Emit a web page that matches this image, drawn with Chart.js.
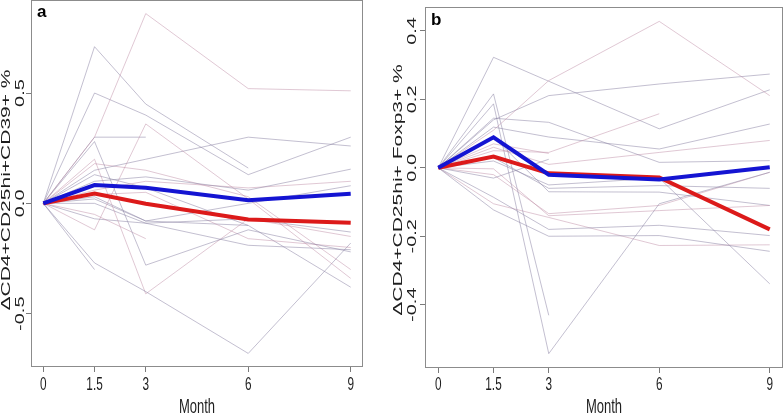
<!DOCTYPE html>
<html>
<head>
<meta charset="utf-8">
<script src="https://cdn.jsdelivr.net/npm/chart.js@4.4.1/dist/chart.umd.min.js"></script>
<style>
  body { margin: 0; background: #fff; }
  .wrap { position: relative; width: 784px; height: 414px; }
  canvas { position: absolute; top: 0; }
  #chartA { left: 0; }
  #chartB { left: 392px; }
</style>
</head>
<body>
<div class="wrap">
  <canvas id="chartA" width="392" height="414"></canvas>
  <canvas id="chartB" width="392" height="414"></canvas>
</div>
<script>
// x positions (months)
const months = [0, 1.5, 3, 6, 9];
const monthLabels = ["0", "1.5", "3", "6", "9"];

// panel a
const titleA = "\u0394CD4+CD25hi+CD39+ %";
const yTicksA = [-0.5, 0, 0.5];
const blueA = [0, 0.083, 0.071, 0.014, 0.044];
const redA = [0, 0.044, -0.002, -0.073, -0.088];
const subjectsA = [
  [0, 0.30, 0.86, 0.52, 0.51],
  [0, 0.71, 0.45, 0.16, null],
  [0, 0.50, 0.40, 0.13, 0.30],
  [0, -0.12, 0.36, 0.02, -0.34],
  [0, -0.27, -0.40, -0.68, -0.18],
  [0, 0.28, -0.28, -0.12, -0.22],
  [0, 0.20, -0.41, -0.07, -0.15],
  [0, -0.30, null, null, null],
  [0, 0.30, 0.30, null, null],
  [0, -0.05, -0.16, null, null],
  [0, 0.15, 0.20, 0.30, 0.26],
  [0, 0.10, 0.12, 0.06, 0.155],
  [0, 0.06, 0.10, 0.07, 0.10],
  [0, 0.02, -0.08, 0.0, 0.08],
  [0, -0.07, -0.09, -0.07, -0.13],
  [0, 0.04, 0.05, -0.16, -0.20],
  [0, 0.13, 0.07, -0.10, -0.38],
  [0, 0.0, -0.09, -0.19, -0.21],
  [0, 0.18, 0.15, 0.03, -0.30],
  [0, 0.03, -0.08, -0.10, null]
];

// panel b
const titleB = "\u0394CD4+CD25hi+ Foxp3+ %";
const yTicksB = [-0.4, -0.2, 0, 0.2, 0.4];
const blueB = [0, 0.089, -0.02, -0.034, 0.002];
const redB = [0, 0.033, -0.016, -0.028, -0.18];
const subjectsB = [
  [0, 0.11, 0.255, 0.428, 0.211],
  [0, 0.323, 0.253, 0.114, 0.228],
  [0, 0.14, 0.211, 0.245, 0.274],
  [0, 0.05, 0.045, 0.158, null],
  [0, 0.145, 0.133, 0.016, 0.021],
  [0, 0.119, 0.09, 0.055, 0.128],
  [0, 0.06, 0.01, 0.045, 0.08],
  [0, 0.187, -0.543, -0.105, -0.013],
  [0, 0.216, -0.431, null, null],
  [0, -0.003, -0.14, -0.125, -0.11],
  [0, -0.086, -0.18, -0.168, -0.198],
  [0, -0.123, -0.2, -0.198, -0.244],
  [0, -0.105, -0.145, -0.227, -0.225],
  [0, 0.02, -0.05, -0.03, -0.339],
  [0, 0.03, -0.06, -0.052, -0.06],
  [0, 0.07, 0.042, null, null],
  [0, -0.03, 0.025, null, null],
  [0, 0.09, -0.07, -0.071, -0.11],
  [0, -0.02, -0.134, -0.11, -0.013]
];

const SQ = 0.62; // the picture is squeezed sideways
const FONT = '"Liberation Sans", Arial, sans-serif';

function pts(vals) {
  return months.map((m, i) => ({ x: m, y: vals[i] }));
}

function makeDatasets(blue, red, subjects) {
  let ds = [];
  ds.push({ data: pts(blue), borderColor: "#1414d2", borderWidth: 4 });
  ds.push({ data: pts(red), borderColor: "#dc1a1a", borderWidth: 4 });
  subjects.forEach((s, i) => {
    ds.push({
      data: pts(s),
      borderColor: i % 3 == 0 ? "rgba(190,140,165,0.6)" : "rgba(140,132,165,0.65)",
      borderWidth: 0.8
    });
  });
  return ds;
}

const decor = {
  id: "decor",
  afterDraw(chart, args, o) {
    const ctx = chart.ctx;
    const a = chart.chartArea;
    const xs = chart.scales.x, ys = chart.scales.y;
    ctx.save();
    // box
    ctx.strokeStyle = "#8c8c8c";
    ctx.lineWidth = 1;
    ctx.strokeRect(Math.round(a.left) + 0.5, Math.round(a.top) + 0.5,
      Math.round(a.right - a.left) - 1, Math.round(a.bottom - a.top) - 1);
    ctx.fillStyle = "#1e1e1e";
    // x tick labels
    ctx.font = "19px " + FONT;
    ctx.textAlign = "center";
    ctx.textBaseline = "alphabetic";
    xs.ticks.forEach((t, i) => {
      ctx.save();
      ctx.translate(xs.getPixelForValue(t.value), 390);
      ctx.scale(SQ, 1);
      ctx.fillText(monthLabels[i], 0, 0);
      ctx.restore();
    });
    // x title
    ctx.font = "21px " + FONT;
    ctx.save();
    ctx.translate((a.left + a.right) / 2, 413);
    ctx.scale(SQ, 1);
    ctx.fillText("Month", 0, 0);
    ctx.restore();
    // y tick labels
    ctx.font = "20px " + FONT;
    ys.ticks.forEach(t => {
      ctx.save();
      ctx.translate(o.yLabelX, ys.getPixelForValue(t.value));
      ctx.scale(SQ, 1);
      ctx.rotate(-Math.PI / 2);
      ctx.fillText(t.value.toFixed(1), 0, 0);
      ctx.restore();
    });
    // y title
    ctx.font = "21px " + FONT;
    ctx.save();
    ctx.translate(o.titleX, 190);
    ctx.scale(SQ, 1);
    ctx.rotate(-Math.PI / 2);
    ctx.fillText(o.title, 0, 0);
    ctx.restore();
    // panel letter
    ctx.font = "bold 17px " + FONT;
    ctx.textAlign = "left";
    ctx.fillStyle = "#000";
    ctx.fillText(o.letter, o.letterX, o.letterY);
    ctx.restore();
  }
};

function drawPanel(id, cfg) {
  let c = document.getElementById(id).getContext("2d");
  new Chart(c, {
    type: "line",
    data: { datasets: makeDatasets(cfg.blue, cfg.red, cfg.subjects) },
    plugins: [decor],
    options: {
      responsive: false,
      devicePixelRatio: 1,
      animation: false,
      events: [],
      layout: { padding: { left: 0, right: cfg.padRight, top: cfg.padTop, bottom: 0 } },
      elements: { point: { radius: 0 }, line: { tension: 0 } },
      spanGaps: false,
      scales: {
        x: {
          type: "linear",
          min: -0.36,
          max: 9.36,
          afterBuildTicks: s => { s.ticks = months.map(v => ({ value: v })); },
          afterFit: s => { s.height = cfg.bottomH; },
          ticks: { display: false },
          grid: { drawOnChartArea: false, drawTicks: true, tickLength: 5, color: "#7a7a7a" },
          border: { display: false }
        },
        y: {
          min: cfg.yMin,
          max: cfg.yMax,
          afterBuildTicks: s => { s.ticks = cfg.yTicks.map(v => ({ value: v })); },
          afterFit: s => { s.width = cfg.leftW; },
          ticks: { display: false },
          grid: { drawOnChartArea: false, drawTicks: true, tickLength: 5, color: "#7a7a7a" },
          border: { display: false }
        }
      },
      plugins: {
        legend: { display: false },
        tooltip: { enabled: false },
        decor: cfg.decor
      }
    }
  });
}

drawPanel("chartA", {
  blue: blueA, red: redA, subjects: subjectsA, yTicks: yTicksA,
  yMin: -0.7416, yMax: 0.9216,
  leftW: 31, padRight: 29, padTop: 0, bottomH: 47,
  decor: { title: titleA, letter: "a", letterX: 37, letterY: 17, yLabelX: 24, titleX: 9.5 }
});

drawPanel("chartB", {
  blue: blueB, red: redB, subjects: subjectsB, yTicks: yTicksB,
  yMin: -0.585, yMax: 0.47,
  leftW: 33, padRight: 1, padTop: 7, bottomH: 46,
  decor: { title: titleB, letter: "b", letterX: 39, letterY: 25, yLabelX: 24, titleX: 9.5 }
});
</script>
</body>
</html>
